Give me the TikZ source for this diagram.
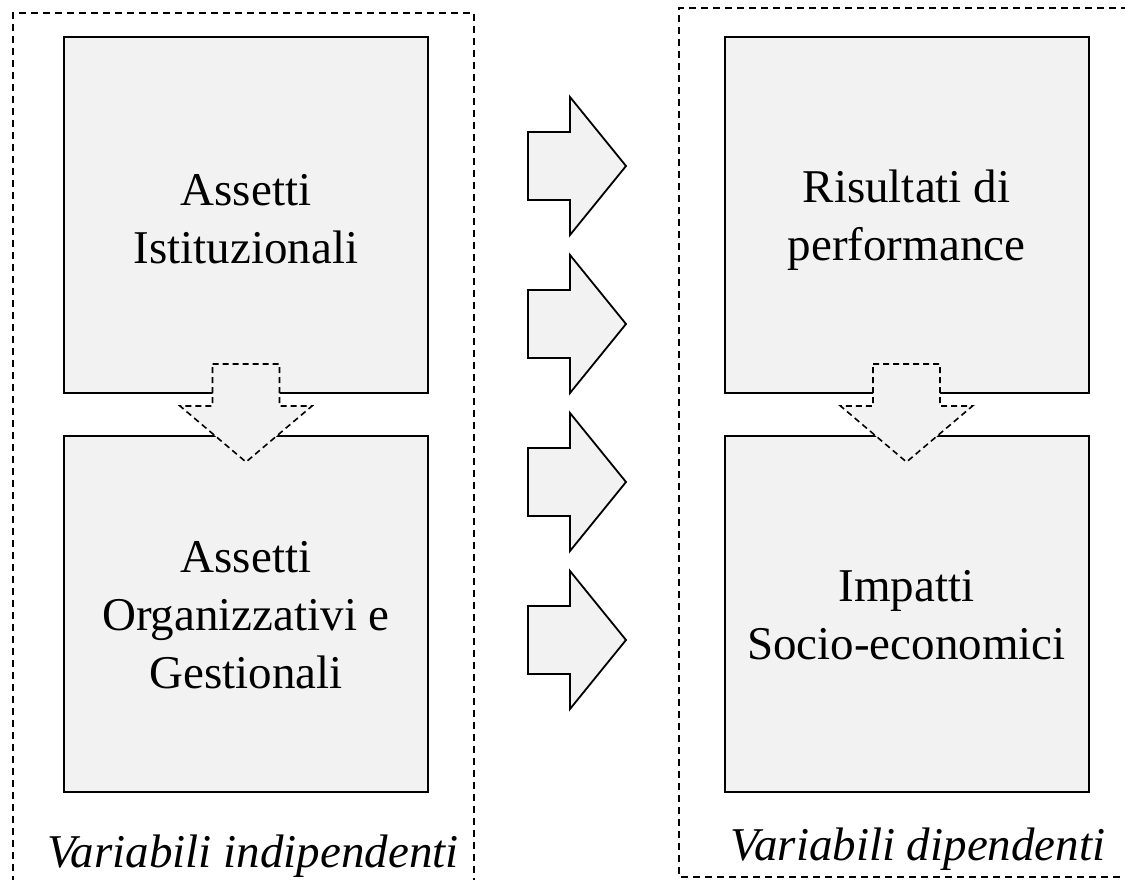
\documentclass[tikz,border=0pt]{standalone}
\usepackage{fontspec}
\setmainfont{Liberation Serif}
\definecolor{boxgray}{HTML}{F2F2F2}
\begin{document}
\begin{tikzpicture}[x=1pt,y=-1pt,
  varbox/.style={draw=black, line width=2pt, fill=boxgray, minimum width=364pt, minimum height=356pt, inner sep=0pt},
  boxtext/.style={inner sep=0pt, align=center, font=\fontsize{47}{58}\selectfont},
  frame/.style={draw=black, line width=1.6pt, dash pattern=on 7pt off 5pt},
  blockarrow/.style={draw=black, line width=1.8pt, fill=boxgray, line join=miter},
  dasharrow/.style={draw=black, line width=1.6pt, fill=boxgray, dash pattern=on 6pt off 4pt},
  caption/.style={anchor=base, inner sep=0pt, font=\fontsize{47}{57}\selectfont\itshape}]
\useasboundingbox (0,0) rectangle (1125,880);
% dashed frames
\draw[frame] (13,895) -- (13,13) -- (474,13) -- (474,895);
\draw[frame] (1140,8) -- (679,8) -- (679,877) -- (1140,877);
% boxes
\node[varbox] (ai) at (246,215) {};
\node[varbox] (ao) at (246,613.5) {};
\node[varbox] (rp) at (906.5,215) {};
\node[varbox] (is) at (906.5,613.5) {};
\node[boxtext] (tai) at ([yshift=-4pt]ai.center) {Assetti\\Istituzionali};
\node[boxtext] (tao) at ([yshift=-2pt]ao.center) {Assetti\\Organizzativi e\\Gestionali};
\node[boxtext] (trp) at ([yshift=-5pt]rp.center) {Risultati di\\performance};
\node[boxtext] (tis) at ([yshift=-2pt]is.center) {Impatti\\Socio-economici};
% dashed down arrows
\foreach \cx/\nm in {246/la, 906.5/ra}{
  \coordinate (\nm) at (\cx,364);
  \draw[dasharrow] ([xshift=-33.5pt]\nm) -- ([xshift=33.5pt]\nm) -- ([xshift=33.5pt,yshift=-42pt]\nm)
    -- ([xshift=66pt,yshift=-42pt]\nm) -- ([yshift=-98pt]\nm) -- ([xshift=-66pt,yshift=-42pt]\nm)
    -- ([xshift=-33.5pt,yshift=-42pt]\nm) -- cycle;
}
% right block arrows
\foreach \cy/\nm in {166/a1, 324/a2, 482/a3, 640/a4}{
  \coordinate (\nm) at (528,\cy);
  \draw[blockarrow] ([yshift=34pt]\nm) -- ([xshift=42pt,yshift=34pt]\nm) -- ([xshift=42pt,yshift=69pt]\nm)
    -- ([xshift=98pt]\nm) -- ([xshift=42pt,yshift=-69pt]\nm) -- ([xshift=42pt,yshift=-34pt]\nm)
    -- ([yshift=-34pt]\nm) -- cycle;
}
% captions
\node[caption] (vi) at (253,867) {Variabili indipendenti};
\node[caption] (vd) at (918,860) {Variabili dipendenti};
\end{tikzpicture}
\end{document}
